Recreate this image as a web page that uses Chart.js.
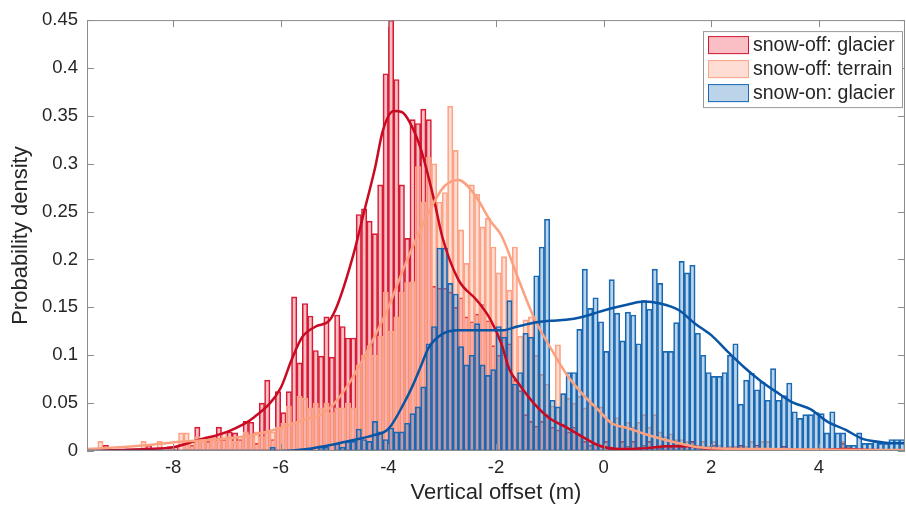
<!DOCTYPE html>
<html>
<head>
<meta charset="utf-8">
<title>Vertical offset</title>
<script src="https://cdn.jsdelivr.net/npm/chart.js@4"></script>
<style>
  html, body { margin: 0; padding: 0; background: #ffffff; }
  #wrap { width: 906px; height: 512px; }
</style>
</head>
<body>
<div id="wrap"><canvas id="myChart" width="906" height="512"></canvas></div>
<script>
//* Datos (bins de 0.1 m, desde -9.6 hasta 5.6)

var binStart = -9.6;
var binWidth = 0.1;

var seriesNames = ["snow-off: glacier", "snow-off: terrain", "snow-on: glacier"];

var redDensity = [
  0, 0, 0, 0.006, 0, 0, 0, 0, 0, 0,
  0, 0.006, 0, 0, 0, 0.005, 0.005, 0, 0.008, 0.006,
  0.025, 0.012, 0.01, 0.015, 0.025, 0.012, 0.02, 0.019, 0.012, 0.031,
  0.03, 0.008, 0.05, 0.074, 0.012, 0.062, 0.04, 0.062, 0.161, 0.092,
  0.154, 0.141, 0.105, 0.099, 0.14, 0.098, 0.142, 0.13, 0.118, 0.118,
  0.247, 0.253, 0.24, 0.227, 0.278, 0.394, 0.45, 0.388, 0.278, 0.222,
  0.346, 0.342, 0.357, 0.346, 0.172, 0.17, 0.17, 0.166, 0.15, 0.16,
  0.14, 0.135, 0.143, 0.153, 0.136, 0.11, 0.10, 0.127, 0.112, 0.074,
  0.063, 0.038, 0.031, 0.026, 0.031, 0.038, 0.025, 0.022, 0.028, 0.02,
  0.025, 0.018, 0.01, 0.006, 0.008, 0.005, 0.01, 0.004, 0.003, 0.01,
  0.005, 0.01, 0.004, 0.006, 0.01, 0.005, 0.003, 0.006, 0.004, 0.01,
  0.004, 0.006, 0.01, 0.003, 0.002, 0.002, 0.006, 0, 0.002, 0,
  0, 0.006, 0, 0, 0.006, 0, 0, 0, 0, 0.005,
  0, 0, 0, 0, 0, 0, 0, 0, 0, 0,
  0.008, 0.005, 0, 0, 0, 0, 0, 0, 0, 0,
  0, 0
];

var peachDensity = [
  0, 0, 0.01, 0, 0, 0, 0, 0, 0, 0,
  0.01, 0, 0, 0.01, 0, 0.005, 0, 0.019, 0.019, 0.01,
  0.015, 0.01, 0.015, 0.015, 0.01, 0.02, 0.015, 0.01, 0.015, 0.02,
  0.015, 0.02, 0.015, 0.02, 0.02, 0.025, 0.029, 0.047, 0.03, 0.057,
  0.055, 0.045, 0.05, 0.045, 0.05, 0.04, 0.045, 0.045, 0.05, 0.045,
  0.09, 0.10, 0.11, 0.10, 0.12, 0.166, 0.125, 0.14, 0.166, 0.176,
  0.177, 0.297, 0.26, 0.307, 0.30, 0.26, 0.27, 0.36, 0.314, 0.231,
  0.196, 0.278, 0.268, 0.234, 0.243, 0.213, 0.186, 0.203, 0.168, 0.213,
  0.12, 0.137, 0.14, 0.10, 0.08, 0.07, 0.047, 0.111, 0.06, 0.055,
  0.05, 0.057, 0.045, 0.05, 0.046, 0.046, 0.035, 0.03, 0.035, 0.025,
  0.03, 0.025, 0.03, 0.038, 0.025, 0.038, 0.02, 0.015, 0.018, 0.012,
  0.012, 0.01, 0.008, 0.006, 0.01, 0.005, 0.01, 0.006, 0.003, 0.005,
  0.005, 0.003, 0.005, 0.01, 0.005, 0.01, 0.01, 0.003, 0.002, 0.003,
  0.003, 0, 0.002, 0.003, 0, 0, 0.002, 0, 0.003, 0,
  0.01, 0.005, 0, 0.002, 0, 0, 0.002, 0, 0, 0,
  0, 0
];

var blueDensity = [
  0, 0, 0, 0, 0, 0, 0, 0, 0, 0,
  0, 0, 0, 0, 0, 0, 0, 0, 0, 0,
  0, 0, 0, 0, 0, 0, 0, 0, 0, 0,
  0, 0, 0, 0, 0.004, 0, 0, 0, 0, 0,
  0, 0.003, 0, 0.004, 0.004, 0, 0.008, 0.004, 0.01, 0.01,
  0.023, 0.012, 0.01, 0.031, 0.02, 0.012, 0.024, 0.02, 0.02, 0.029,
  0.039, 0.046, 0.067, 0.112, 0.13, 0.212, 0.212, 0.175, 0.164, 0.109,
  0.09, 0.10, 0.133, 0.09, 0.079, 0.085, 0.13, 0.119, 0.157, 0.07,
  0.082, 0.123, 0.119, 0.183, 0.213, 0.242, 0.053, 0.046, 0.06, 0.082,
  0.082, 0.127, 0.19, 0.149, 0.16, 0.135, 0.104, 0.179, 0.144, 0.115,
  0.145, 0.142, 0.112, 0.157, 0.148, 0.19, 0.175, 0.104, 0.104, 0.134,
  0.198, 0.186, 0.194, 0.123, 0.10, 0.082, 0.078, 0.078, 0.082, 0.10,
  0.112, 0.049, 0.074, 0.081, 0.064, 0.072, 0.053, 0.086, 0.053, 0.058,
  0.071, 0.041, 0.034, 0.038, 0.038, 0.04, 0.039, 0.019, 0.041, 0.019,
  0.019, 0.006, 0.006, 0.019, 0.008, 0.008, 0.01, 0.008, 0.008, 0.012,
  0.012, 0.012
];

// Curvas de densidad (kernel)
var redKdeX = [-9.6, -9.0, -8.5, -8.0, -7.5, -7.0, -6.5, -6.0, -5.8, -5.6, -5.35, -5.1, -4.95, -4.65, -4.45, -4.25, -4.1, -3.9, -3.75, -3.6, -3.4, -3.15, -3.0, -2.7, -2.35, -2.1, -1.9, -1.75, -1.6, -1.3, -1.0, -0.7, -0.4, -0.1, 0.3, 0.8, 1.2, 1.6, 2.0, 2.5, 3.0, 4.0, 4.5, 5.0, 5.6];
var redKdeY = [0, 0.001, 0.002, 0.004, 0.012, 0.02, 0.035, 0.066, 0.095, 0.119, 0.13, 0.136, 0.152, 0.205, 0.25, 0.295, 0.335, 0.355, 0.354, 0.343, 0.316, 0.262, 0.224, 0.179, 0.157, 0.137, 0.112, 0.085, 0.072, 0.05, 0.034, 0.025, 0.015, 0.006, 0.002, 0.003, 0.005, 0.005, 0.002, 0.002, 0.001, 0.001, 0.002, 0.001, 0];

var peachKdeX = [-9.6, -9.0, -8.5, -8.0, -7.5, -7.0, -6.5, -6.0, -5.5, -5.25, -5.0, -4.65, -4.35, -4.0, -3.7, -3.4, -3.1, -2.95, -2.7, -2.4, -2.1, -1.9, -1.6, -1.3, -1.0, -0.7, -0.4, -0.1, 0.15, 0.45, 0.75, 1.05, 1.4, 1.7, 2.0, 3.0, 4.0, 5.0, 5.6];
var peachKdeY = [0.002, 0.004, 0.006, 0.009, 0.011, 0.013, 0.017, 0.024, 0.034, 0.038, 0.05, 0.078, 0.109, 0.15, 0.193, 0.232, 0.265, 0.277, 0.283, 0.268, 0.24, 0.225, 0.182, 0.14, 0.109, 0.081, 0.06, 0.043, 0.029, 0.024, 0.018, 0.013, 0.008, 0.0045, 0.003, 0.002, 0.0015, 0.001, 0.001];

var blueKdeX = [-9.6, -6.0, -5.5, -5.25, -5.0, -4.6, -4.3, -4.0, -3.7, -3.55, -3.4, -3.25, -3.0, -2.7, -2.4, -2.1, -1.9, -1.6, -1.3, -1.0, -0.7, -0.4, -0.1, 0.15, 0.45, 0.75, 1.05, 1.4, 1.7, 2.0, 2.3, 2.6, 2.9, 3.2, 3.5, 3.85, 4.15, 4.5, 4.8, 5.1, 5.4, 5.6];
var blueKdeY = [0, 0, 0.002, 0.0045, 0.007, 0.012, 0.016, 0.023, 0.051, 0.068, 0.088, 0.108, 0.122, 0.126, 0.126, 0.126, 0.126, 0.13, 0.134, 0.136, 0.137, 0.14, 0.145, 0.149, 0.153, 0.156, 0.154, 0.147, 0.133, 0.121, 0.104, 0.088, 0.074, 0.062, 0.051, 0.0435, 0.031, 0.022, 0.013, 0.0097, 0.008, 0.008];

var xMin = -9.6, xMax = 5.6;
var yMin = 0, yMax = 0.45;

//* Grafico

var fuente = '"Liberation Sans", Arial, Helvetica, sans-serif';
var colorTexto = '#262626';
var colorEje = '#8c8c8c';

function toBars(values) {
  return values.map(function (v, i) {
    return { x: +(binStart + binWidth * (i + 0.5)).toFixed(2), y: v };
  });
}

function toLine(xs, ys) {
  return xs.map(function (x, i) { return { x: x, y: ys[i] }; });
}

// Marco tipo MATLAB: caja completa con marcas hacia adentro
var marcoEjes = {
  id: 'marcoEjes',
  afterDatasetsDraw: function (chart) {
    var a = chart.chartArea;
    var c = chart.ctx;
    var sx = chart.scales.x;
    var sy = chart.scales.y;
    var largo = 7;
    c.save();
    c.strokeStyle = colorEje;
    c.lineWidth = 1;
    c.strokeRect(a.left + 0.5, a.top + 0.5, a.right - a.left - 1, a.bottom - a.top - 1);
    c.beginPath();
    sx.ticks.forEach(function (t) {
      var p = Math.round(sx.getPixelForValue(t.value)) + 0.5;
      c.moveTo(p, a.bottom); c.lineTo(p, a.bottom - largo);
      c.moveTo(p, a.top); c.lineTo(p, a.top + largo);
    });
    sy.ticks.forEach(function (t) {
      var p = Math.round(sy.getPixelForValue(t.value)) + 0.5;
      c.moveTo(a.left, p); c.lineTo(a.left + largo, p);
      c.moveTo(a.right, p); c.lineTo(a.right - largo, p);
    });
    c.stroke();
    c.restore();
  }
};

// Leyenda dentro del area, arriba a la derecha
var leyenda = {
  id: 'leyenda',
  afterDraw: function (chart) {
    var a = chart.chartArea;
    var c = chart.ctx;
    var ancho = 199, alto = 76;
    var x0 = a.right - 3 - ancho;
    var y0 = a.top + 11;
    c.save();
    c.fillStyle = '#ffffff';
    c.fillRect(x0, y0, ancho, alto);
    c.strokeStyle = '#999999';
    c.lineWidth = 1;
    c.strokeRect(x0 + 0.5, y0 + 0.5, ancho, alto);
    c.font = '19.5px ' + fuente;
    c.textBaseline = 'middle';
    var barras = chart.data.datasets.filter(function (d) { return d.type !== 'line'; });
    barras.sort(function (p, q) { return seriesNames.indexOf(p.label) - seriesNames.indexOf(q.label); });
    barras.forEach(function (d, i) {
      var sy = y0 + 5 + i * 24;
      c.fillStyle = d.backgroundColor;
      c.fillRect(x0 + 5, sy, 41, 18);
      c.strokeStyle = d.borderColor;
      c.strokeRect(x0 + 5.5, sy + 0.5, 40, 17);
      c.fillStyle = colorTexto;
      c.fillText(d.label, x0 + 50, sy + 10);
    });
    c.restore();
  }
};

document.addEventListener("DOMContentLoaded", function () {
  var ctx = document.getElementById('myChart').getContext('2d');

  var datos = {
    datasets: [
      {
        type: 'line', label: 'kde ' + seriesNames[2], data: toLine(blueKdeX, blueKdeY),
        borderColor: 'rgb(8, 84, 165)', borderWidth: 2.5, pointRadius: 0,
        cubicInterpolationMode: 'monotone', order: 0
      },
      {
        type: 'line', label: 'kde ' + seriesNames[1], data: toLine(peachKdeX, peachKdeY),
        borderColor: 'rgb(252, 161, 128)', borderWidth: 2.5, pointRadius: 0,
        cubicInterpolationMode: 'monotone', order: 0
      },
      {
        type: 'line', label: 'kde ' + seriesNames[0], data: toLine(redKdeX, redKdeY),
        borderColor: 'rgb(200, 10, 35)', borderWidth: 2.5, pointRadius: 0,
        cubicInterpolationMode: 'monotone', order: 0
      },
      {
        label: seriesNames[2], data: toBars(blueDensity),
        backgroundColor: 'rgba(33, 113, 181, 0.3)', borderColor: 'rgb(24, 104, 180)',
        borderWidth: 1, borderSkipped: false, grouped: false,
        barPercentage: 1, categoryPercentage: 1, order: 1
      },
      {
        label: seriesNames[1], data: toBars(peachDensity),
        backgroundColor: 'rgba(252, 146, 114, 0.3)', borderColor: 'rgb(252, 165, 135)',
        borderWidth: 1, borderSkipped: false, grouped: false,
        barPercentage: 1, categoryPercentage: 1, order: 2
      },
      {
        label: seriesNames[0], data: toBars(redDensity),
        backgroundColor: 'rgba(240, 70, 90, 0.35)', borderColor: 'rgb(210, 25, 50)',
        borderWidth: 1, borderSkipped: false, grouped: false,
        barPercentage: 1, categoryPercentage: 1, order: 3
      }
    ]
  };

  var miGrafico = new Chart(ctx, {
    type: 'bar',
    data: datos,
    options: {
      responsive: false,
      animation: false,
      devicePixelRatio: 1,
      layout: { padding: { top: 20, right: 1, left: 0, bottom: 0 } },
      plugins: {
        legend: { display: false },
        tooltip: { enabled: false }
      },
      scales: {
        x: {
          type: 'linear',
          min: xMin,
          max: xMax,
          offset: false,
          grid: { display: false, drawTicks: false, offset: false },
          border: { display: false },
          ticks: {
            stepSize: 2, includeBounds: false, padding: 6, maxRotation: 0, autoSkip: false,
            color: colorTexto, font: { family: fuente, size: 18.5 }
          },
          title: {
            display: true, text: 'Vertical offset (m)', color: colorTexto,
            font: { family: fuente, size: 22 }, padding: { top: 0, bottom: 6 }
          },
          afterFit: function (s) { s.height = 61; }
        },
        y: {
          min: yMin,
          max: yMax,
          grid: { display: false, drawTicks: false },
          border: { display: false },
          ticks: {
            stepSize: 0.05, padding: 9, color: colorTexto, font: { family: fuente, size: 18.5 },
            callback: function (v) { return String(+v.toFixed(2)); }
          },
          title: {
            display: true, text: 'Probability density', color: colorTexto,
            font: { family: fuente, size: 22 }, padding: { top: 8, bottom: 0 }
          },
          afterFit: function (s) { s.width = 87; }
        }
      }
    },
    plugins: [marcoEjes, leyenda]
  });
});
</script>
</body>
</html>
